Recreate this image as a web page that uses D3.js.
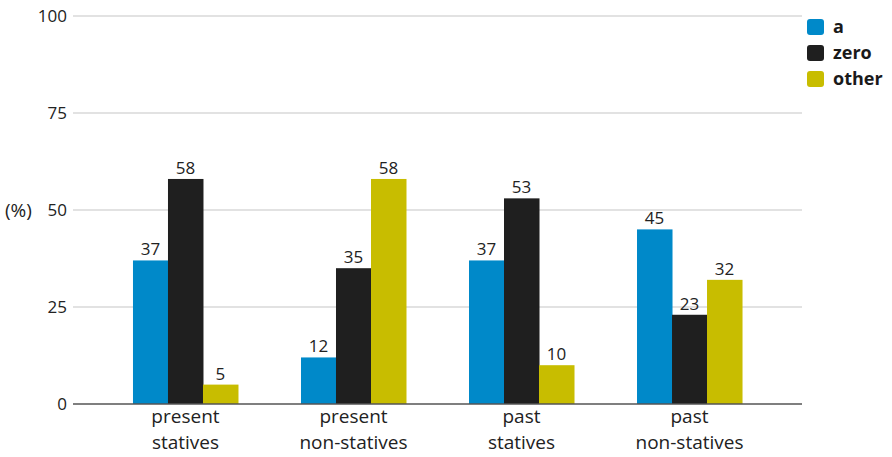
<!DOCTYPE html>
<html>
<head>
<meta charset="utf-8">
<script src="https://cdn.jsdelivr.net/npm/d3@7"></script>
<style>
  body { margin: 0; background: #fff; }
  svg { display: block; font-family: "Open Sans", "Noto Sans", sans-serif; }
</style>
</head>
<body>
<div id="chart"></div>
<script>
/* ===== data ===== */
const categories = [['present', 'statives'], ['present', 'non-statives'], ['past', 'statives'], ['past', 'non-statives']];
const seriesNames = ['a', 'zero', 'other'];
const seriesColors = ['#0089c9', '#1f1f1f', '#c8bd00'];
const valuesA = [37, 12, 37, 45];
const valuesZero = [58, 35, 53, 23];
const valuesOther = [5, 58, 10, 32];
const yTicks = [0, 25, 50, 75, 100];

const series = [valuesA, valuesZero, valuesOther];

const width = 892, height = 457;
const plotLeft = 73, plotRight = 802, plotTop = 16, plotBottom = 404;

const svg = d3.select('#chart').append('svg')
  .attr('width', width)
  .attr('height', height);

const x0 = d3.scaleBand()
  .domain(categories.map((d, i) => i))
  .range([plotLeft, plotRight])
  .paddingInner(0.375)
  .paddingOuter(0.357);

const x1 = d3.scaleBand()
  .domain(seriesNames)
  .range([0, x0.bandwidth()]);

const y = d3.scaleLinear()
  .domain([0, 100])
  .range([plotBottom, plotTop]);

// Grid lines
svg.append('g')
  .selectAll('line')
  .data(yTicks.filter(d => d > 0))
  .join('line')
  .attr('x1', plotLeft).attr('x2', plotRight)
  .attr('y1', d => y(d)).attr('y2', d => y(d))
  .attr('stroke', '#d9d9d9')
  .attr('stroke-width', 1.5);

// Y labels
svg.append('g')
  .selectAll('text')
  .data(yTicks)
  .join('text')
  .attr('x', 67)
  .attr('y', d => y(d))
  .attr('dy', '0.35em')
  .attr('text-anchor', 'end')
  .attr('fill', '#222')
  .attr('font-size', '17px')
  .text(d => d);

svg.append('text')
  .attr('x', 5)
  .attr('y', y(50))
  .attr('dy', '0.35em')
  .attr('fill', '#222')
  .attr('font-size', '19px')
  .text('(%)');

// Bars
const groups = svg.append('g')
  .selectAll('g')
  .data(series)
  .join('g')
  .attr('fill', (d, i) => seriesColors[i]);

groups.selectAll('rect')
  .data((vals, si) => vals.map((v, ci) => ({ v, ci, s: seriesNames[si] })))
  .join('rect')
  .attr('x', d => x0(d.ci) + x1(d.s))
  .attr('y', d => y(d.v))
  .attr('width', x1.bandwidth() + 0.5)
  .attr('height', d => y(0) - y(d.v));

// Value labels
groups.selectAll('text')
  .data((vals, si) => vals.map((v, ci) => ({ v, ci, s: seriesNames[si] })))
  .join('text')
  .attr('x', d => x0(d.ci) + x1(d.s) + x1.bandwidth() / 2)
  .attr('y', d => y(d.v) - 5)
  .attr('text-anchor', 'middle')
  .attr('fill', '#222')
  .attr('font-size', '17px')
  .text(d => d.v);

// Baseline
svg.append('line')
  .attr('x1', plotLeft).attr('x2', plotRight)
  .attr('y1', y(0)).attr('y2', y(0))
  .attr('stroke', '#555')
  .attr('stroke-width', 1.5);

// X labels
const xl = svg.append('g')
  .selectAll('text')
  .data(categories)
  .join('text')
  .attr('x', (d, i) => x0(i) + x0.bandwidth() / 2)
  .attr('y', 423)
  .attr('text-anchor', 'middle')
  .attr('fill', '#222')
  .attr('font-size', '19px');
xl.selectAll('tspan')
  .data(d => d)
  .join('tspan')
  .attr('x', function () { return this.parentNode.getAttribute('x'); })
  .attr('dy', (d, i) => i ? 26 : 0)
  .text(d => d);

// Legend
const leg = svg.append('g')
  .selectAll('g')
  .data(seriesNames)
  .join('g')
  .attr('transform', (d, i) => `translate(807,${19 + i * 26})`);
leg.append('rect')
  .attr('width', 17).attr('height', 16)
  .attr('rx', 3)
  .attr('fill', (d, i) => seriesColors[i]);
leg.append('text')
  .attr('x', 26).attr('y', 8)
  .attr('dy', '0.35em')
  .attr('fill', '#1a1a1a')
  .attr('font-size', '18px')
  .attr('font-weight', '700')
  .text(d => d);
</script>
</body>
</html>
